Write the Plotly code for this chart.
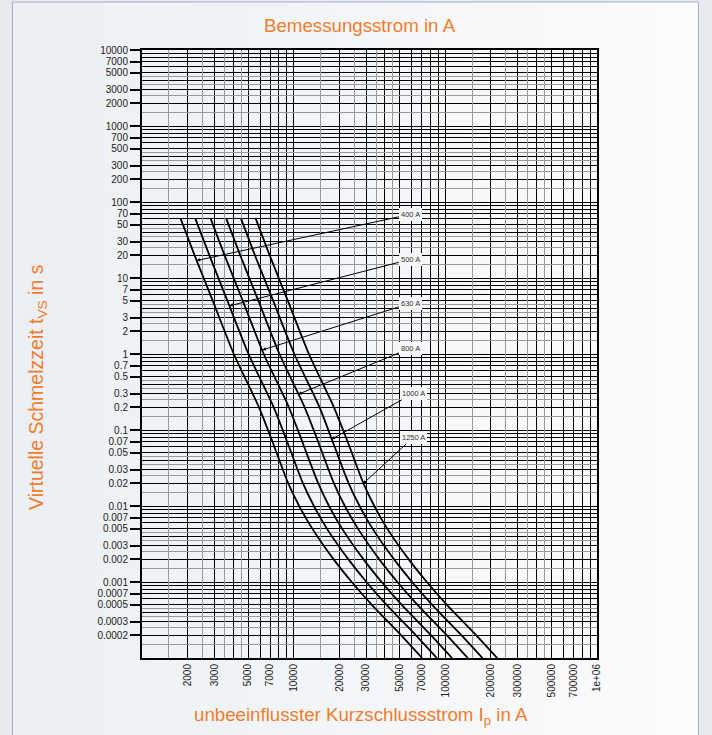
import math
import plotly.graph_objects as go

# ---------------- data ----------------
t_grid = [60, 20, 5, 1, 0.2, 0.07, 0.02, 0.01, 0.005, 0.002, 0.001, 0.0005, 0.0002, 0.0001]
i_400 = [1800, 2220, 2930, 4030, 5900, 7250, 9200, 10870, 13290, 18300, 24150, 32770, 51000, 70300]
i_500 = [2250, 2780, 3660, 5040, 7380, 9060, 11500, 13600, 16600, 22900, 30200, 41000, 63800, 87900]
i_630 = [2840, 3500, 4620, 6350, 9290, 11400, 14500, 17100, 20900, 28800, 38000, 51600, 80300, 110700]
i_800 = [3600, 4440, 5860, 8060, 11800, 14500, 18400, 21740, 26580, 36600, 48300, 65540, 102000, 140600]
i_1000 = [4500, 5550, 7330, 10100, 14800, 18100, 23000, 27200, 33200, 45800, 60400, 81900, 127500, 175800]
i_1250 = [5630, 6940, 9160, 12600, 18400, 22700, 28800, 34000, 41500, 57200, 75500, 102400, 159400, 219700]

curve_names = ["400 A", "500 A", "630 A", "800 A", "1000 A", "1250 A"]
curve_currents = [i_400, i_500, i_630, i_800, i_1000, i_1250]

# label boxes and arrow tips
tip_i = [2300, 3790, 6220, 10700, 17800, 28600]
tip_t = [17, 4.3, 1.13, 0.295, 0.0755, 0.0195]
label_i = [58800, 58800, 58800, 58800, 61500, 61500]
label_t = [68.9, 17.6, 4.65, 1.19, 0.304, 0.0802]

# axis ticks
x_tickvals = [2000, 3000, 5000, 7000, 10000, 20000, 30000, 50000, 70000, 100000,
              200000, 300000, 500000, 700000, 1000000]
x_ticktext = ["2000", "3000", "5000", "7000", "10000", "20000", "30000", "50000", "70000",
              "100000", "200000", "300000", "500000", "700000", "1e+06"]
x_minor_black = [4000, 6000, 8000, 9000, 40000, 60000, 80000, 90000,
                 400000, 600000, 800000, 900000]
x_minor_gray = [1500, 2500, 3500, 4500, 15000, 25000, 35000, 45000,
                150000, 250000, 350000, 450000]

y_tickvals = [0.0002, 0.0003, 0.0005, 0.0007, 0.001, 0.002, 0.003, 0.005, 0.007,
              0.01, 0.02, 0.03, 0.05, 0.07, 0.1, 0.2, 0.3, 0.5, 0.7,
              1, 2, 3, 5, 7, 10, 20, 30, 50, 70, 100, 200, 300, 500, 700,
              1000, 2000, 3000, 5000, 7000, 10000]
y_ticktext = ["0.0002", "0.0003", "0.0005", "0.0007", "0.001", "0.002", "0.003", "0.005", "0.007",
              "0.01", "0.02", "0.03", "0.05", "0.07", "0.1", "0.2", "0.3", "0.5", "0.7",
              "1", "2", "3", "5", "7", "10", "20", "30", "50", "70", "100", "200", "300", "500", "700",
              "1000", "2000", "3000", "5000", "7000", "10000"]
y_minor_black = [m * 10.0 ** d for d in range(-4, 4) for m in (4, 6, 8, 9)]
y_minor_gray = [m * 10.0 ** d for d in range(-4, 4) for m in (1.5, 2.5, 3.5, 4.5)]

# ---------------- figure ----------------
W, H = 712, 735
ML, MR, MT, MB = 142, 115, 50, 77
PW, PH = W - ML - MR, H - MT - MB


def px_x(px):
    return (px - ML) / PW


def px_y(py):
    return (H - MB - py) / PH


ORANGE = "#EF7D2D"
OUTER = "#e7ebf0"
FONT = "Liberation Sans, Arial, sans-serif"

fig = go.Figure()

for name, cur in zip(curve_names, curve_currents):
    fig.add_trace(go.Scatter(
        x=cur, y=t_grid, mode="lines", name=name,
        line=dict(color="black", width=1.8, shape="spline", smoothing=0.7),
        showlegend=False, hoverinfo="skip"))

# invisible trace creating the overlay axes that carry the gray grid
fig.add_trace(go.Scatter(x=[1000], y=[1], xaxis="x2", yaxis="y2", mode="markers",
                         marker=dict(opacity=0), showlegend=False, hoverinfo="skip"))

shapes = []
# panel with a soft horizontal gradient
x_left, x_right = 12.5, 698.5
n_strips = 30
c0 = (236, 240, 244)
c1 = (250, 251, 252)
for k in range(n_strips):
    a = x_left + (x_right - x_left) * k / n_strips
    b = x_left + (x_right - x_left) * (k + 1) / n_strips
    f = k / (n_strips - 1)
    col = "rgb(%d,%d,%d)" % tuple(round(c0[j] + (c1[j] - c0[j]) * f) for j in range(3))
    shapes.append(dict(type="rect", xref="paper", yref="paper",
                       x0=px_x(a), x1=px_x(b) + 0.002, y0=px_y(745), y1=px_y(2),
                       fillcolor=col, line=dict(width=0), layer="below"))
shapes.append(dict(type="rect", xref="paper", yref="paper",
                   x0=px_x(x_left), x1=px_x(x_right), y0=px_y(745), y1=px_y(2),
                   fillcolor="rgba(0,0,0,0)", line=dict(color="#9fb0c2", width=1),
                   layer="below"))

annotations = [
    dict(text="Bemessungsstrom in A", xref="paper", yref="paper",
         x=px_x(360), y=px_y(26), showarrow=False, xanchor="center", yanchor="middle",
         font=dict(family=FONT, size=18.7, color=ORANGE)),
    dict(text="unbeeinflusster Kurzschlussstrom I<sub>p</sub> in A", xref="paper", yref="paper",
         x=px_x(361), y=px_y(716), showarrow=False, xanchor="center", yanchor="middle",
         font=dict(family=FONT, size=18.7, color=ORANGE)),
    dict(text="Virtuelle Schmelzzeit t<sub>VS</sub> in s", xref="paper", yref="paper",
         x=px_x(37), y=px_y(387), showarrow=False, xanchor="center", yanchor="middle",
         textangle=-90, font=dict(family=FONT, size=19.5, color=ORANGE)),
]

for name, ti, tt, li, lt in zip(curve_names, tip_i, tip_t, label_i, label_t):
    annotations.append(dict(
        x=math.log10(ti), y=math.log10(tt), xref="x", yref="y",
        ax=math.log10(li), ay=math.log10(lt), axref="x", ayref="y",
        text=name, showarrow=True, arrowhead=2, arrowsize=0.7, arrowwidth=1,
        arrowcolor="black", standoff=0,
        font=dict(family=FONT, size=7.5, color="#333333"),
        bgcolor="#f6f7f9", borderpad=2, borderwidth=0))

fig.update_layout(
    width=W, height=H, template="none",
    margin=dict(l=ML, r=MR, t=MT, b=MB, pad=0),
    paper_bgcolor=OUTER, plot_bgcolor="rgba(0,0,0,0)",
    font=dict(family=FONT, size=10, color="#222222"),
    shapes=shapes, annotations=annotations, showlegend=False,
    xaxis=dict(type="log", range=[3, 6], automargin=False,
               showline=True, linecolor="black", linewidth=2, mirror=True,
               tickmode="array", tickvals=x_tickvals, ticktext=x_ticktext,
               tickangle=-90, ticks="", tickfont=dict(size=10, color="#222222"),
               showgrid=True, gridcolor="black", gridwidth=1.4, zeroline=False,
               minor=dict(tickmode="array", tickvals=x_minor_black, showgrid=True,
                          gridcolor="black", gridwidth=1.4, ticks="")),
    yaxis=dict(type="log", range=[-4, 4], automargin=False,
               showline=True, linecolor="black", linewidth=2, mirror=True,
               tickmode="array", tickvals=y_tickvals, ticktext=y_ticktext,
               ticks="outside", ticklen=10, tickwidth=1.5, tickcolor="black",
               tickfont=dict(size=10, color="#222222"),
               showgrid=True, gridcolor="black", gridwidth=1.4, zeroline=False,
               minor=dict(tickmode="array", tickvals=y_minor_black, showgrid=True,
                          gridcolor="black", gridwidth=1.4, ticks="")),
    xaxis2=dict(type="log", range=[3, 6], overlaying="x", anchor="y2", side="bottom",
                tickmode="array", tickvals=x_minor_gray, showticklabels=False, ticks="",
                showgrid=True, gridcolor="#999999", gridwidth=1.4, showline=False,
                zeroline=False, automargin=False),
    yaxis2=dict(type="log", range=[-4, 4], overlaying="y", anchor="x2", side="left",
                tickmode="array", tickvals=y_minor_gray, showticklabels=False, ticks="",
                showgrid=True, gridcolor="#999999", gridwidth=1.4, showline=False,
                zeroline=False, automargin=False),
)

fig.write_html("out.html",
               config={"displayModeBar": False},
               post_script="document.body.style.margin='0px';"
                           "document.body.style.background='%s';" % OUTER)
